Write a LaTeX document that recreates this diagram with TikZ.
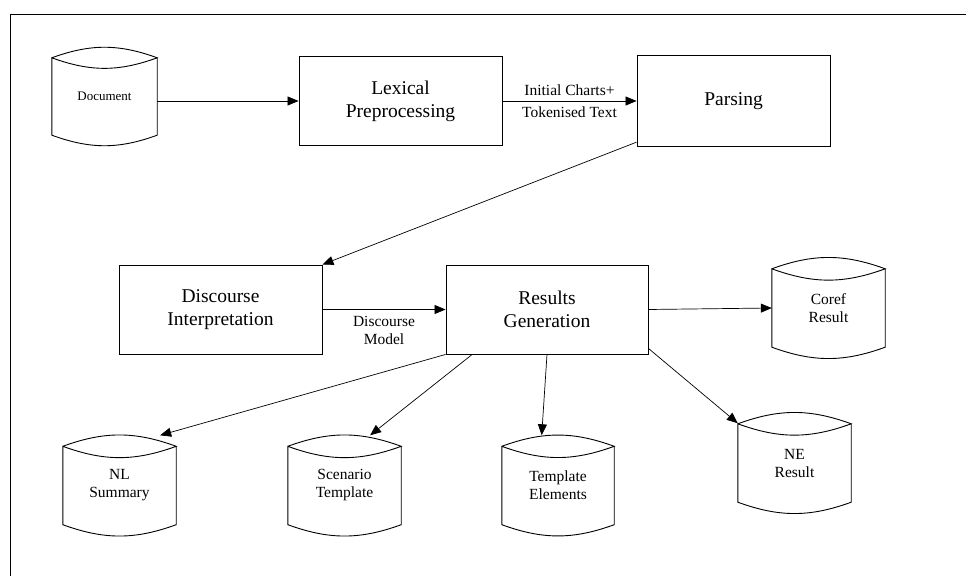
\documentclass[tikz,border=0pt]{standalone}
\usepackage{fontspec}
\setmainfont{Liberation Serif}
\usetikzlibrary{arrows.meta}

\begin{document}
\begin{tikzpicture}[x=1pt, y=1pt,
    proc/.style={draw, line width=0.9pt, minimum width=203pt, minimum height=89pt, align=center,
      font=\fontsize{19.5}{23}\selectfont},
    store/.style={minimum width=113pt, minimum height=100pt, inner sep=0pt, align=center,
      font=\fontsize{15.5}{18}\selectfont},
    note/.style={align=center, font=\fontsize{15.5}{18}\selectfont},
    link/.style={-{Triangle[length=11pt,width=9pt]}, line width=0.7pt}]
  \useasboundingbox (0,0) rectangle (966,576);
  \draw[line width=0.9pt] (10,0) -- (10,562) -- (966,562);
  % processing steps
  \node[proc] (lex) at (400.5,475) {Lexical\\Preprocessing};
  \node[proc, minimum width=193pt, minimum height=91pt] (parse) at (733.5,475) {Parsing};
  \node[proc] (disc) at (220.5,266.5) {Discourse\\Interpretation};
  \node[proc, minimum width=202pt] (res) at (547,266.5) {Results\\Generation};
  % data stores
  \node[store, minimum width=105pt, minimum height=99pt, font=\fontsize{13}{16}\selectfont] (doc) at (104.5,479.5) {Document};
  \node[store] (coref) at (828.5,268) {Coref\\Result};
  \node[store] (ne) at (794.5,113) {NE\\Result};
  \node[store, minimum width=112pt] (tmpl) at (558,90.5) {Template\\Elements};
  \node[store] (scen) at (344.5,90.5) {Scenario\\Template};
  \node[store] (nl) at (119.5,90.5) {NL\\Summary};
  \foreach \n in {doc,coref,ne,tmpl,scen,nl}
    \draw[line width=0.9pt] ([yshift=-11pt]\n.north west) to[bend left=20] ([yshift=-11pt]\n.north east)
      to[bend left=20] ([yshift=-11pt]\n.north west) -- ([yshift=11pt]\n.south west)
      to[bend right=20] ([yshift=11pt]\n.south east) -- ([yshift=-11pt]\n.north east);
  % flow
  \draw[link] (doc.east |- lex.west) -- (lex.west);
  \draw[link] (lex.east) -- node[note] {Initial Charts+\\[4pt]Tokenised Text} (parse.west);
  \draw[link] (parse.203) -- (disc.north east);
  \draw[link] (disc.east) -- node[note, below=3pt] {Discourse\\Model} (res.west);
  \draw[link] (res.east) -- (coref.west);
  \draw[link] (res.-21) -- (ne.145);
  \draw[link] (res.south) -- (tmpl.108);
  \draw[link] (res.211) -- (scen.63);
  \draw[link] (res.south west) -- (nl.51);
\end{tikzpicture}
\end{document}
